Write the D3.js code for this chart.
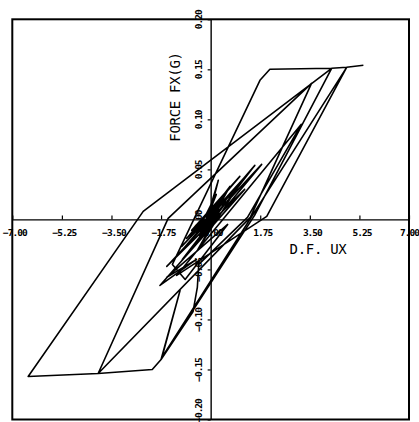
<!DOCTYPE html>
<html>
<head>
<meta charset="utf-8">
<script src="https://cdn.jsdelivr.net/npm/d3@7"></script>
<style>
  body { margin: 0; background: #fff; }
  svg { display: block; }
</style>
</head>
<body>
<div id="root"></div>
<script>
// DATA - hysteresis trace, displacement (D.F. UX) and force (FX, G)
const dispX = [
  0, 0.12, -0.15, 0.25, -0.22, 0.10, -0.30, 0.35, -0.12, 0.20,
  -0.40, 0.45, -0.50, 0.09, 0.27, -0.10, 0.68, -0.35, 0.30, -0.67,
  1.03, -0.85, 0.90, -0.45, 0.55, -1.02, 1.39, -1.32, 1.56, -1.00,
  1.80, -1.55, 1.20, -1.79, -0.50, -1.55, 0.60, -0.90, -1.35,
  1.74, 2.09, 4.27, 1.55, -1.75, -2.06, -3.97, -1.50, 3.56,
  1.40, -3.97, -6.44, -2.38, 4.27, 4.80, 1.98, -1.20, 3.20,
  1.30, -0.42, -0.47, -0.62, -1.75, -1.08, -1.72, 4.80, 5.39
];
const forceY = [
  0, 0.010, -0.008, 0.016, -0.004, 0.012, -0.012, 0.020, 0.002, 0.025,
  -0.016, 0.022, -0.014, 0.019, 0.039, 0.004, 0.033, -0.020, 0.010, -0.011,
  0.043, -0.019, 0.030, -0.030, 0.020, -0.027, 0.048, -0.041, 0.054, -0.040,
  0.055, -0.047, 0.030, -0.066, -0.040, -0.058, -0.005, -0.060, -0.045,
  0.139, 0.150, 0.151, 0.004, -0.140, -0.150, -0.154, 0.001, 0.136,
  0.002, -0.154, -0.157, 0.008, 0.151, 0.152, 0.003, -0.056, 0.095,
  0.002, -0.045, -0.068, -0.092, -0.140, -0.071, -0.138, 0.152, 0.154
];
const xTicks = [-7, -5.25, -3.5, -1.75, 0, 1.75, 3.5, 5.25, 7];
const yTicks = [-0.20, -0.15, -0.10, -0.05, 0, 0.05, 0.10, 0.15, 0.20];

//DIMENSIONS
const width = 419, height = 422;
const margin = {left: 12.3, right: 409, top: 19.3, bottom: 419.5};

const svg = d3.select('#root')
  .append('svg')
  .attr('width', width)
  .attr('height', height);

//SCALES
const x = d3.scaleLinear().domain([-7, 7]).range([margin.left, margin.right]);
const y = d3.scaleLinear().domain([-0.2, 0.2]).range([margin.bottom, margin.top]);

const fmt = d3.format('.2f');
const tickFont = '"DejaVu Sans Mono", monospace';

//X AXIS (through zero)
const xAxis = svg.append('g')
  .attr('transform', `translate(0,${y(0)})`)
  .call(d3.axisBottom(x)
    .tickValues(xTicks)
    .tickFormat(fmt)
    .tickSizeInner(-4)
    .tickSizeOuter(0)
    .tickPadding(9.5));
xAxis.select('.domain').attr('stroke', '#000').attr('stroke-width', 1.4);
xAxis.selectAll('.tick line').attr('stroke', '#000').attr('stroke-width', 1.2);
xAxis.selectAll('.tick text')
  .attr('x', d => d === 7 ? 0 : 2)
  .attr('fill', '#000')
  .style('font-family', tickFont)
  .style('font-size', '9.5px')
  .style('font-weight', 'bold')
  .style('letter-spacing', '-1px');

//Y AXIS (through zero), labels turned
const yAxis = svg.append('g')
  .attr('transform', `translate(${x(0)},0)`)
  .call(d3.axisLeft(y)
    .tickValues(yTicks)
    .tickFormat(fmt)
    .tickSizeInner(3)
    .tickSizeOuter(0));
yAxis.select('.domain').attr('stroke', '#000').attr('stroke-width', 1.4);
yAxis.selectAll('.tick line').attr('stroke', '#000').attr('stroke-width', 1.2);
yAxis.selectAll('.tick text')
  .attr('transform', 'rotate(-90)')
  .attr('x', d => d === -0.2 ? 9 : 0)
  .attr('y', -8.5)
  .attr('dy', 0)
  .attr('text-anchor', 'middle')
  .attr('fill', '#000')
  .style('font-family', tickFont)
  .style('font-size', '9.5px')
  .style('font-weight', 'bold')
  .style('letter-spacing', '-1px');

//FRAME
svg.append('rect')
  .attr('x', margin.left)
  .attr('y', margin.top)
  .attr('width', margin.right - margin.left)
  .attr('height', margin.bottom - margin.top)
  .attr('fill', 'none')
  .attr('stroke', '#000')
  .attr('stroke-width', 2);

//AXIS TITLES
svg.append('text')
  .attr('x', 318)
  .attr('y', 254)
  .attr('text-anchor', 'middle')
  .attr('fill', '#000')
  .style('font-family', tickFont)
  .style('font-size', '14px')
  .style('letter-spacing', '-0.3px')
  .text('D.F. UX');

svg.append('text')
  .attr('transform', 'translate(180,97) rotate(-90)')
  .attr('text-anchor', 'middle')
  .attr('fill', '#000')
  .style('font-family', tickFont)
  .style('font-size', '14px')
  .style('letter-spacing', '-0.3px')
  .text('FORCE FX(G)');

//TRACE
const points = dispX.map((d, i) => ({ ux: d, fx: forceY[i] }));
const line = d3.line()
  .x(d => x(d.ux))
  .y(d => y(d.fx));

svg.append('path')
  .datum(points)
  .attr('fill', 'none')
  .attr('stroke', '#000')
  .attr('stroke-width', 1.6)
  .attr('stroke-linejoin', 'round')
  .attr('d', line);
</script>
</body>
</html>
